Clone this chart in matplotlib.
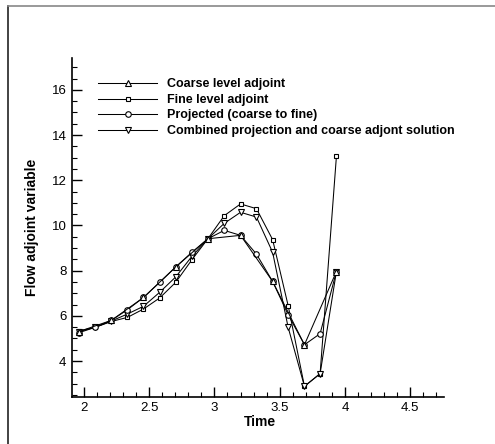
import matplotlib
matplotlib.use("Agg")
import matplotlib.pyplot as plt
from matplotlib.lines import Line2D

plt.rcParams['font.family'] = ['Liberation Sans', 'DejaVu Sans']

time = [1.96, 2.085, 2.21, 2.333, 2.456, 2.58, 2.703, 2.827, 2.95,
        3.075, 3.2, 3.322, 3.446, 3.565, 3.69, 3.81, 3.935]

coarse_time = time[::2]
coarse = [5.3, 5.8, 6.81, 8.16, 9.41, 9.56, 7.52, 4.72, 7.96]

fine = [5.33, 5.49, 5.75, 5.93, 6.3, 6.79, 7.48, 8.48, 9.41,
        10.43, 10.95, 10.74, 9.37, 6.45, 2.88, 3.44, 13.05]

projected = [5.25, 5.49, 5.8, 6.27, 6.81, 7.48, 8.16, 8.81, 9.41,
             9.78, 9.56, 8.73, 7.52, 6.05, 4.72, 5.21, 7.96]

combined = [5.3, 5.49, 5.77, 6.08, 6.42, 7.04, 7.72, 8.63, 9.41,
            10.09, 10.58, 10.37, 8.81, 5.49, 2.88, 3.44, 7.96]

labels = ["Coarse level adjoint", "Fine level adjoint",
          "Projected (coarse to fine)",
          "Combined projection and coarse adjont solution"]

fig = plt.figure(figsize=(4.95, 4.44), dpi=100)
ax = fig.add_axes([0.1455, 0.1065, 0.7515, 0.7625])

style = dict(color='black', lw=0.75, markersize=4, markerfacecolor='white',
             markeredgecolor='black', markeredgewidth=0.8)
sq_style = {**style, 'markersize': 3.5}

ax.plot(time, fine, marker='s', **sq_style)
ax.plot(time, combined, marker='v', **style)
ax.plot(time, projected, marker='o', **style)
ax.plot(coarse_time, coarse, marker='^', **style)

ax.set_xlim(1.908, 4.76)
ax.set_ylim(2.42, 17.4)
ax.set_xticks([2, 2.5, 3, 3.5, 4, 4.5])
ax.set_xticklabels(['2', '2.5', '3', '3.5', '4', '4.5'])
ax.set_xticks([v / 10 for v in range(20, 48)], minor=True)
ax.set_yticks([4, 6, 8, 10, 12, 14, 16])
ax.set_yticks([v / 2 for v in range(5, 35)], minor=True)

ax.spines['top'].set_visible(False)
ax.spines['right'].set_visible(False)
ax.spines['left'].set_linewidth(1.2)
ax.spines['bottom'].set_linewidth(1.2)
ax.tick_params(which='major', direction='in', length=7, width=1.0, labelsize=9.5, pad=4)
ax.tick_params(which='minor', direction='in', length=3.5, width=0.8)

ax.set_xlabel("Time", fontsize=10, fontweight='bold')
ax.xaxis.set_label_coords(0.505, -0.055)
ax.set_ylabel("Flow adjoint variable", fontsize=10, fontweight='bold')
ax.yaxis.set_label_coords(-0.088, 0.5)

handles = [
    Line2D([], [], marker='^', **style),
    Line2D([], [], marker='s', **sq_style),
    Line2D([], [], marker='o', **style),
    Line2D([], [], marker='v', **style),
]
ax.legend(handles, labels, loc='upper left', bbox_to_anchor=(0.057, 0.955),
          frameon=False, handlelength=4.7, handletextpad=0.8,
          labelspacing=0.28, borderaxespad=0,
          prop={'weight': 'bold', 'size': 9})

# figure frame lines (top and left)
fig.add_artist(Line2D([8 / 495, 8 / 495], [0, 1 - 6 / 444], color='#222222', lw=1.2))
fig.add_artist(Line2D([8 / 495, 1], [1 - 6 / 444, 1 - 6 / 444], color='#888888', lw=1.2))

fig.savefig("out.png", dpi=100)
